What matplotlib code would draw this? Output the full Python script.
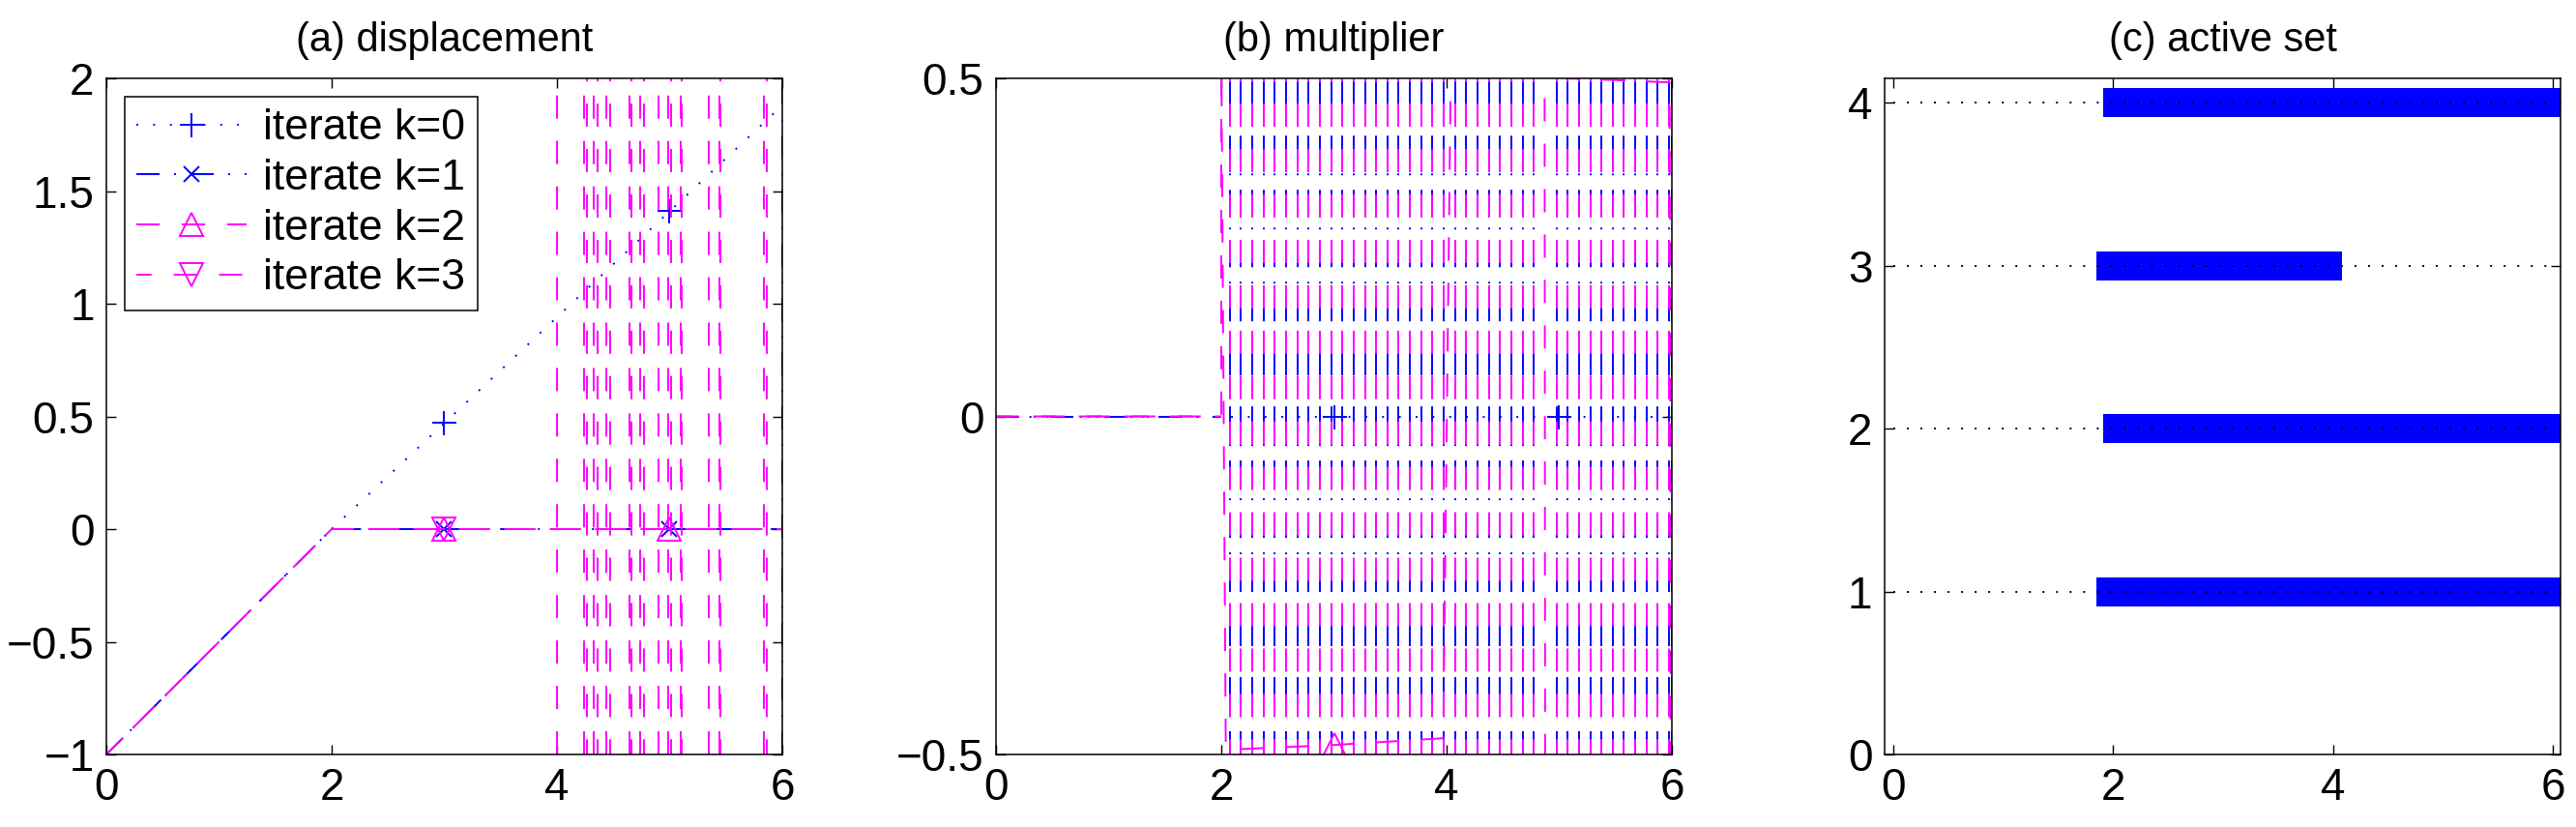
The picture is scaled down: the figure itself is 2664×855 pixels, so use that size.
import numpy as np
import matplotlib
matplotlib.use("Agg")
import matplotlib.pyplot as plt

plt.rcParams['font.family'] = ['Liberation Sans', 'DejaVu Sans']
plt.rcParams['lines.scale_dashes'] = False

# ---- data: (a) displacement ----
xa = [0, 2, 3, 5, 6]
a_k0 = [-1, 0, 0.47, 1.41, 1.88]
a_k1 = [-1, 0, 0, 0, 0]
a_k2 = [-1, 0, 0, 0, 0]
a_k3 = [-1, 0, 0, 0, 0]
# x positions where the iterates blow up (vertical jumps)
a_k1_jumps = [6.0]
a_k2_jumps = [4.00, 4.24, 4.33, 4.44, 4.64, 4.74, 4.90, 4.99, 5.10, 5.35, 5.44, 5.84]
a_k3_jumps = [4.27, 4.36, 4.47, 4.66, 4.77, 5.01, 5.11, 5.45, 5.86]

# ---- data: (b) multiplier ----
xb = [0, 2, 3, 5, 6]
b_k0 = [0, 0, 0, 0, 0]
b_k1_x = [0, 2]
b_k1 = [0, 0]
b_k2_x = [0, 2.0, 2.0, 2.04, 3.0, 3.97, 4.04, 4.87, 4.875]
b_k2 = [0, 0, 0.55, -0.493, -0.486, -0.476, 0.55, 0.55, -0.55]
b_k3_x = [0, 2, np.nan, 5.05, 5.5, 5.98, 5.99]
b_k3 = [0, 0, np.nan, 0.5, 0.4975, 0.494, -0.55]
b_cols = [2.075, 2.175, 2.275, 2.375, 2.475, 2.575, 2.675, 2.775, 2.875, 2.975,
          3.075, 3.175, 3.275, 3.375, 3.475, 3.575, 3.675, 3.775, 3.875, 3.975,
          4.075, 4.175, 4.275, 4.375, 4.475, 4.575, 4.675, 4.775, 4.975,
          5.075, 5.175, 5.275, 5.375, 5.475, 5.575, 5.675, 5.775, 5.875, 5.975]
b_k1_extra = [6.0]

# ---- data: (c) active set ----
c_rows = [1, 2, 3, 4]
c_start = [1.85, 1.91, 1.85, 1.91]
c_end = [6.2, 6.2, 4.08, 6.2]

labels = ['iterate k=0', 'iterate k=1', 'iterate k=2', 'iterate k=3']

BLUE = (0, 0, 1)
MAG = (1, 0, 1)
DOT = (0, (1.4, 11.1))
DASHDOT = (0, (17.3, 10.8, 1.4, 10.8))
DASH = (0, (17.3, 16.5))
DASH3 = (6, (17.3, 16.5))
LW = 1.4
MS = 17
MEW = 1.4


def style_axes(ax):
    ax.tick_params(direction='in', length=7, width=1, top=True, right=True,
                   labelsize=33, pad=9)
    for s in ax.spines.values():
        s.set_linewidth(1.1)


fig = plt.figure(figsize=(26.64, 8.55), dpi=100)
W, H = 2664, 855
axa = fig.add_axes([110 / W, 75 / H, 699 / W, 699 / H])
axb = fig.add_axes([1030 / W, 75 / H, 699 / W, 699 / H])
axc = fig.add_axes([1949 / W, 75 / H, 699 / W, 699 / H])

# ---------------- (a) ----------------
axa.plot(xa, a_k0, color=BLUE, linestyle=DOT, lw=LW, marker='+', ms=18, mew=MEW,
         markevery=[2, 3], label=labels[0])
axa.plot(xa, a_k1, color=BLUE, linestyle=DASHDOT, lw=LW, marker='x', ms=11.5, mew=MEW,
         markevery=[2, 3], label=labels[1])
axa.vlines(a_k1_jumps, -1, 2, colors=[BLUE], linestyles=[DASHDOT], lw=LW)
axa.plot(xa, a_k2, color=MAG, linestyle=DASH, lw=LW, marker='^', ms=MS, mew=MEW,
         mfc='none', markevery=[2, 3], label=labels[2])
axa.vlines(a_k2_jumps, -1, 2, colors=[MAG], linestyles=[DASH], lw=LW)
axa.plot(xa, a_k3, color=MAG, linestyle=DASH3, lw=LW, marker='v', ms=MS, mew=MEW,
         mfc='none', markevery=[2], label=labels[3])
axa.vlines(a_k3_jumps, -1, 2, colors=[MAG], linestyles=[DASH3], lw=LW)
axa.set_xlim(0, 6)
axa.set_ylim(-1, 2)
axa.set_xticks([0, 2, 4, 6])
axa.set_yticks([-1, -0.5, 0, 0.5, 1, 1.5, 2])
axa.set_yticklabels(['\u22121', '\u22120.5', '0', '0.5', '1', '1.5', '2'])
axa.set_title('(a) displacement', fontsize=30, pad=20)
style_axes(axa)
leg = axa.legend(loc='upper left', bbox_to_anchor=(0.027, 0.973), borderaxespad=0,
                 fontsize=32, fancybox=False, framealpha=1, edgecolor='k',
                 handlelength=2.55, handletextpad=0.4, labelspacing=0.24,
                 borderpad=0.28, numpoints=1)
leg.get_frame().set_linewidth(1.1)

# ---------------- (b) ----------------
axb.plot(xb, b_k0, color=BLUE, linestyle=DOT, lw=LW, marker='+', ms=18, mew=MEW,
         markevery=[2, 3])
axb.vlines(b_cols + b_k1_extra, -0.5, 0.5, colors=[BLUE], linestyles=[DASHDOT], lw=LW)
axb.plot(b_k1_x, b_k1, color=BLUE, linestyle=DASHDOT, lw=LW)
axb.plot(b_k2_x, b_k2, color=MAG, linestyle=DASH, lw=LW, marker='^', ms=MS, mew=MEW,
         mfc='none', markevery=[4])
axb.vlines(b_cols, -0.5, 0.5, colors=[MAG], linestyles=[DASH3], lw=LW)
axb.plot(b_k3_x, b_k3, color=MAG, linestyle=DASH3, lw=LW)
axb.set_xlim(0, 6)
axb.set_ylim(-0.5, 0.5)
axb.set_xticks([0, 2, 4, 6])
axb.set_yticks([-0.5, 0, 0.5])
axb.set_yticklabels(['\u22120.5', '0', '0.5'])
axb.set_title('(b) multiplier', fontsize=30, pad=20)
style_axes(axb)

# ---------------- (c) ----------------
axc.hlines(c_rows, c_start, c_end, colors=[BLUE], lw=21.6)
axc.hlines(c_rows, 0, 6, colors='k', linestyles=[(0, (1.4, 8.7))], lw=1.4)
axc.set_xlim(-0.08, 6.07)
axc.set_ylim(0, 4.15)
axc.set_xticks([0, 2, 4, 6])
axc.set_yticks([0, 1, 2, 3, 4])
axc.set_title('(c) active set', fontsize=30, pad=20)
style_axes(axc)

fig.savefig('out.png', dpi=100)
